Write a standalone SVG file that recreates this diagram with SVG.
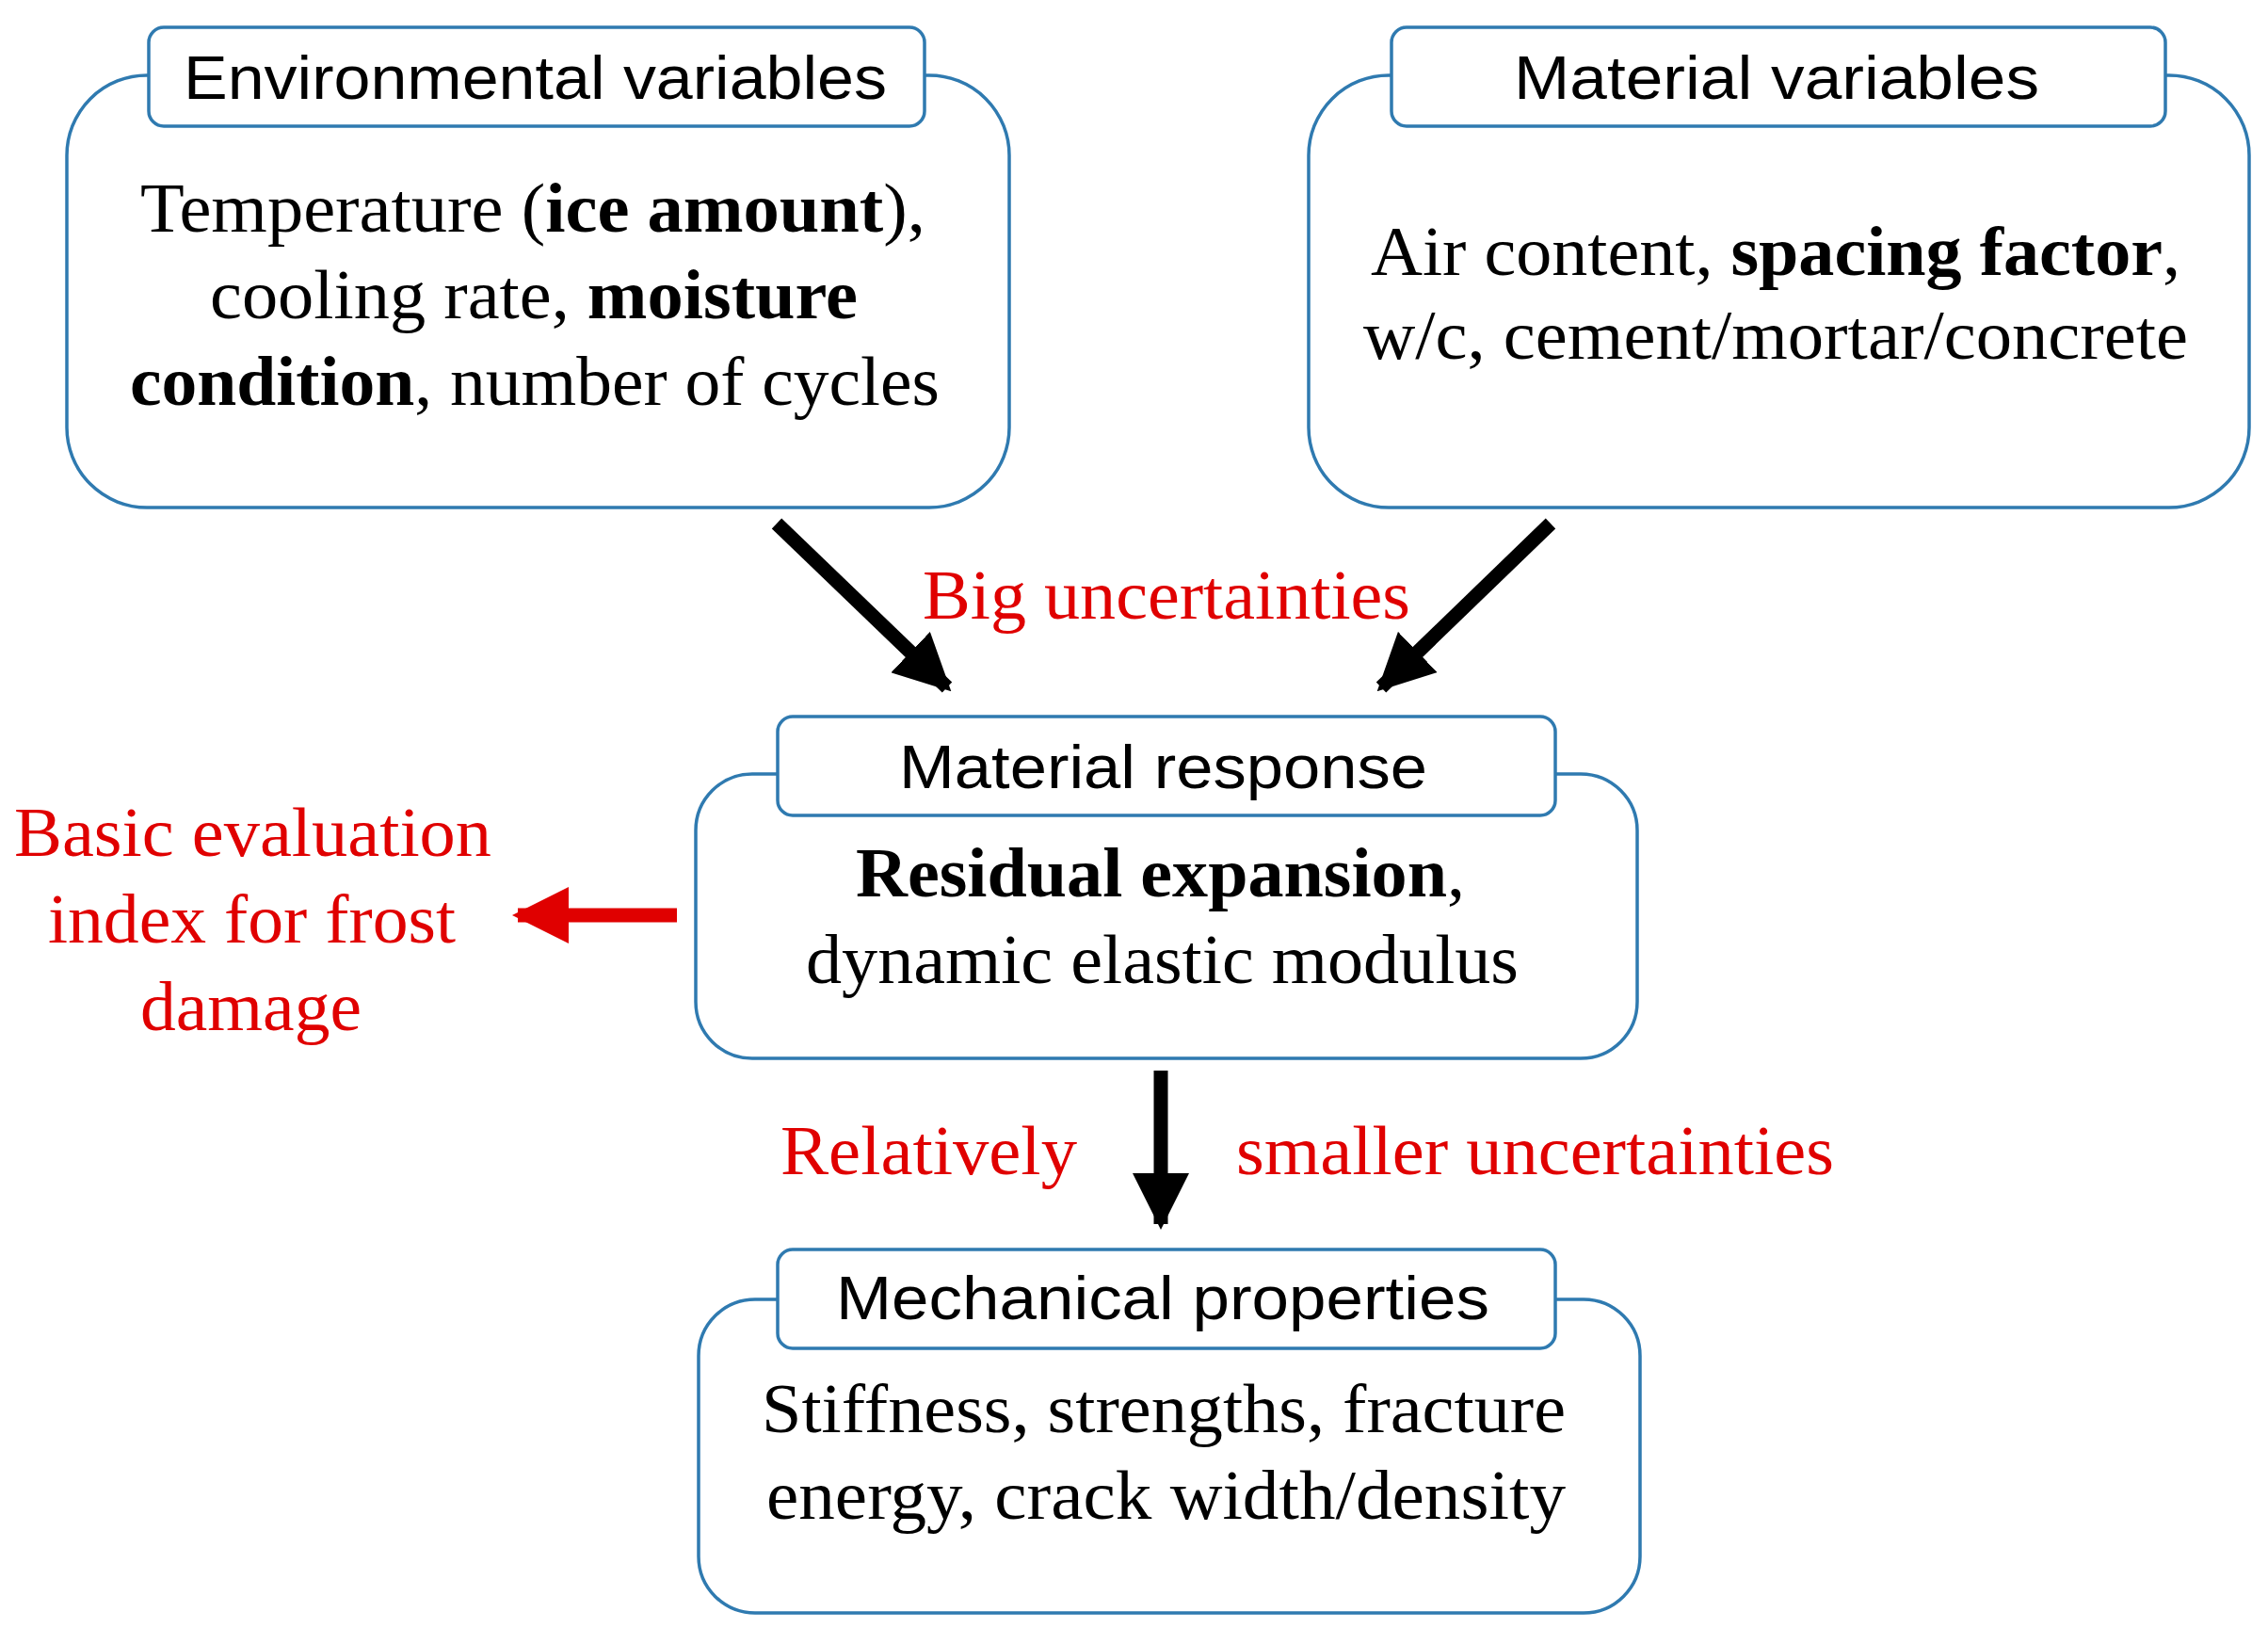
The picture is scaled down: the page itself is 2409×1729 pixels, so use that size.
<svg xmlns="http://www.w3.org/2000/svg" width="2409" height="1729" viewBox="0 0 2409 1729">
<defs>
<style>
.box{fill:#fff;stroke:#2f7ab0;stroke-width:3.5}
.hd{font-family:"Liberation Sans",Arial,sans-serif;font-size:64px;fill:#000}
.bd{font-family:"Liberation Serif","Times New Roman",serif;font-size:74px;fill:#000}
.rd{font-family:"Liberation Serif","Times New Roman",serif;font-size:74px;fill:#e00000}
.b{font-weight:bold}
.ar{stroke:#000;stroke-width:15;fill:none}
</style>
<marker id="ah" viewBox="0 0 10 10" refX="9" refY="5" markerWidth="4" markerHeight="4" markerUnits="strokeWidth" orient="auto"><path d="M0,0L10,5L0,10z" fill="#000"/></marker>
<marker id="ahr" viewBox="0 0 10 10" refX="9" refY="5" markerWidth="4" markerHeight="4" markerUnits="strokeWidth" orient="auto"><path d="M0,0L10,5L0,10z" fill="#e00000"/></marker>
</defs>
<g id="env">
<rect class="box" x="71" y="80" width="1001" height="459" rx="85"/>
<rect class="box" x="158" y="29" width="824" height="105" rx="16"/>
<text class="hd" x="195" y="105" textLength="747" lengthAdjust="spacingAndGlyphs">Environmental variables</text>
<text class="bd" x="149" y="246" textLength="834" lengthAdjust="spacingAndGlyphs">Temperature (<tspan class="b">ice amount</tspan>),</text>
<text class="bd" x="223" y="338" textLength="688" lengthAdjust="spacingAndGlyphs">cooling rate, <tspan class="b">moisture</tspan></text>
<text class="bd" x="138" y="430" textLength="860" lengthAdjust="spacingAndGlyphs"><tspan class="b">condition</tspan>, number of cycles</text>
</g>
<g id="mat">
<rect class="box" x="1390" y="80" width="999" height="459" rx="85"/>
<rect class="box" x="1478" y="29" width="822" height="105" rx="16"/>
<text class="hd" x="1608" y="105" textLength="558" lengthAdjust="spacingAndGlyphs">Material variables</text>
<text class="bd" x="1456" y="292" textLength="860" lengthAdjust="spacingAndGlyphs">Air content, <tspan class="b">spacing factor</tspan>,</text>
<text class="bd" x="1448" y="381" textLength="876" lengthAdjust="spacingAndGlyphs">w/c, cement/mortar/concrete</text>
</g>
<g id="resp">
<rect class="box" x="739" y="822" width="1000" height="302" rx="60"/>
<rect class="box" x="826" y="761" width="826" height="105" rx="16"/>
<text class="hd" x="955" y="837" textLength="561" lengthAdjust="spacingAndGlyphs">Material response</text>
<text class="bd" x="909" y="952" textLength="647" lengthAdjust="spacingAndGlyphs"><tspan class="b">Residual expansion</tspan>,</text>
<text class="bd" x="856" y="1044" textLength="757" lengthAdjust="spacingAndGlyphs">dynamic elastic modulus</text>
</g>
<g id="mech">
<rect class="box" x="742" y="1380" width="1000" height="333" rx="60"/>
<rect class="box" x="826" y="1327" width="826" height="105" rx="16"/>
<text class="hd" x="888" y="1401" textLength="694" lengthAdjust="spacingAndGlyphs">Mechanical properties</text>
<text class="bd" x="809" y="1521" textLength="854" lengthAdjust="spacingAndGlyphs">Stiffness, strengths, fracture</text>
<text class="bd" x="814" y="1613" textLength="849" lengthAdjust="spacingAndGlyphs">energy, crack width/density</text>
</g>
<g id="labels">
<text class="rd" x="980" y="657" textLength="518" lengthAdjust="spacingAndGlyphs">Big uncertainties</text>
<text class="rd" x="15" y="909" textLength="507" lengthAdjust="spacingAndGlyphs">Basic evaluation</text>
<text class="rd" x="51" y="1001" textLength="433" lengthAdjust="spacingAndGlyphs">index for frost</text>
<text class="rd" x="149" y="1094" textLength="235" lengthAdjust="spacingAndGlyphs">damage</text>
<text class="rd" x="829" y="1247" textLength="315" lengthAdjust="spacingAndGlyphs">Relatively</text>
<text class="rd" x="1313" y="1247" textLength="635" lengthAdjust="spacingAndGlyphs">smaller uncertainties</text>
</g>
<g id="connectors">
<line class="ar" x1="825" y1="556" x2="1006" y2="730" marker-end="url(#ah)"/>
<line class="ar" x1="1647" y1="556" x2="1467" y2="730" marker-end="url(#ah)"/>
<line class="ar" x1="1233" y1="1137" x2="1233" y2="1300" marker-end="url(#ah)"/>
<line x1="719" y1="972" x2="550" y2="972" stroke="#e00000" stroke-width="15" marker-end="url(#ahr)"/>
</g>
</svg>
